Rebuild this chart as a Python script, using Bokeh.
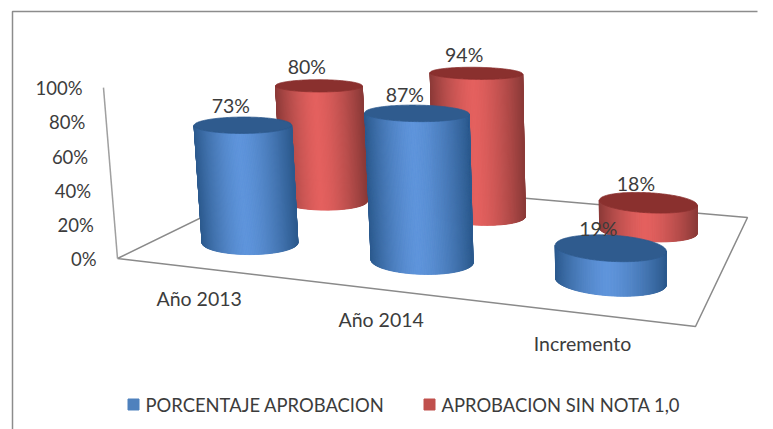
import numpy as np
from bokeh.plotting import figure
from bokeh.models import Range1d
from bokeh.core.properties import value
from bokeh.embed import file_html
from bokeh.resources import INLINE

categories = ["Año 2013", "Año 2014", "Incremento"]
series_names = ["PORCENTAJE APROBACION", "APROBACION SIN NOTA 1,0"]
porcentaje = [73, 87, 19]
sin_nota = [80, 94, 18]
y_ticks = [0, 20, 40, 60, 80, 100]
FONT = "Lato"
TXT = "#3c3c3c"

# Palette: (edge, highlight, top)
BLUE = ((0x2c, 0x5a, 0x8e), (0x5e, 0x94, 0xdb), "#2f5b8e")
RED = ((0x8c, 0x3a, 0x38), (0xe4, 0x60, 0x5e), "#8a302e")

# Floor quad corners in page pixels and the vertical vanishing point.
floor_src = [(0, 0), (3, 0), (3, 2), (0, 2)]
floor_dst = [(117, 258), (695, 326), (747, 217), (283, 177)]
A = []
b = []
for (u, v), (x, y) in zip(floor_src, floor_dst):
    A.append([u, v, 1, 0, 0, 0, -u * x, -v * x]); b.append(x)
    A.append([0, 0, 0, u, v, 1, -u * y, -v * y]); b.append(y)
h = np.linalg.solve(np.array(A, float), np.array(b, float))
H = np.array([[h[0], h[1], h[2]], [h[3], h[4], h[5]], [h[6], h[7], 1.0]])
c = -0.000261
acol, bcol = 640 * c, 6636 * c


def project(u, v, z):
    w = H[2, 0] * u + H[2, 1] * v + H[2, 2] + c * z
    x = (H[0, 0] * u + H[0, 1] * v + H[0, 2] + acol * z) / w
    y = (H[1, 0] * u + H[1, 1] * v + H[1, 2] + bcol * z) / w
    return x, y


p = figure(width=773, height=429, output_backend="svg", toolbar_location=None,
           x_range=Range1d(0, 773), y_range=Range1d(429, 0), min_border=0,
           outline_line_color=None, background_fill_color="white")
p.axis.visible = False
p.grid.visible = False

# Chart frame
p.line([12, 12, 757], [429, 11, 11], line_color="#8c8c8c", line_width=1.5)

# Floor and axis
fx, fy = zip(*[project(*q, 0) for q in floor_src + floor_src[:1]])
p.line(list(fx), list(fy), line_color="#8a8a8a", line_width=1.5)
ax, ay = zip(*[project(0, 0, t) for t in (0, 100)])
p.line(list(ax), list(ay), line_color="#a0a0a0", line_width=1.5)

# Value labels on the axis
lx, ly = zip(*[project(0, 0, t) for t in y_ticks])
p.text([x - 21 for x in lx], list(ly), text=[f"{t}%" for t in y_ticks], text_align="right",
       text_baseline="middle", text_font=value(FONT), text_font_size="18.5px", text_color=TXT)

RU, RV = 0.27, 0.23
CU = [0.515, 1.52, 2.51]
CV = [0.52, 1.52]
ZS = 0.985


def cylinder(u0, v0, val, pal):
    th = np.linspace(0, 2 * np.pi, 241)
    us = u0 + RU * np.cos(th)
    vs = v0 + RV * np.sin(th)
    bx, by = project(us, vs, 0)
    tx, ty = project(us, vs, val * ZS)
    i0, i1 = int(np.argmin(bx[:-1])), int(np.argmax(bx[:-1]))
    # the front arc: from leftmost to rightmost through the largest y
    forward = []
    k = i0
    while k != i1:
        forward.append(k); k = (k + 1) % 240
    forward.append(i1)
    backward = []
    k = i0
    while k != i1:
        backward.append(k); k = (k - 1) % 240
    backward.append(i1)
    arc = forward if by[forward].mean() > by[backward].mean() else backward
    arc = arc[::max(1, len(arc) // 60)] + [i1]
    xmin, xmax = bx[i0], bx[i1]
    xs, ys, cols = [], [], []
    for a0, a1 in zip(arc[:-1], arc[1:]):
        t = ((bx[a0] + bx[a1]) / 2 - xmin) / (xmax - xmin)
        d = (t - 0.47) / (0.53 if t > 0.47 else 0.47)
        f = max(0.0, 1 - abs(d) ** 1.5)
        col = tuple(int(round(e + (l - e) * f)) for e, l in zip(pal[0], pal[1]))
        xs.append([bx[a0], bx[a1], tx[a1], tx[a0]])
        ys.append([by[a0], by[a1], ty[a1], ty[a0]])
        cols.append("#%02x%02x%02x" % col)
    p.patches(xs, ys, fill_color=cols, line_color=cols, line_width=1)
    p.patch(tx, ty, fill_color=pal[2], line_color=pal[2], line_width=0.8)


def label(u0, v0, val):
    x, y = project(u0, v0, val * ZS)
    p.text([x - 12], [y - 19], text=[f"{val}%"], text_align="center", text_baseline="middle",
           text_font=value(FONT), text_font_size="19.5px", text_color=TXT)


for i in range(3):
    cylinder(CU[i], CV[1], sin_nota[i], RED)
for i in range(3):
    cylinder(CU[i], CV[0], porcentaje[i], BLUE)
for i in range(3):
    label(CU[i], CV[1], sin_nota[i])
    label(CU[i], CV[0], porcentaje[i])

# Category labels
cx, cy = zip(*[project(u, 0, 0) for u in CU])
p.text([x - 4 for x in cx], [y + 30 for y in cy], text=categories, text_align="center",
       text_baseline="middle", text_font=value(FONT), text_font_size="19.5px", text_color=TXT)

# Legend
p.scatter([133], [404], marker="square", size=11, fill_color="#4f81bd", line_color="#4f81bd")
p.text([145], [404], text=[series_names[0]], text_baseline="middle", text_font=value(FONT),
       text_font_size="18.4px", text_color=TXT)
p.scatter([429], [404], marker="square", size=11, fill_color="#c0504d", line_color="#c0504d")
p.text([441], [404], text=[series_names[1]], text_baseline="middle", text_font=value(FONT),
       text_font_size="18.4px", text_color=TXT)

open("out.html", "w").write(file_html(p, INLINE))
